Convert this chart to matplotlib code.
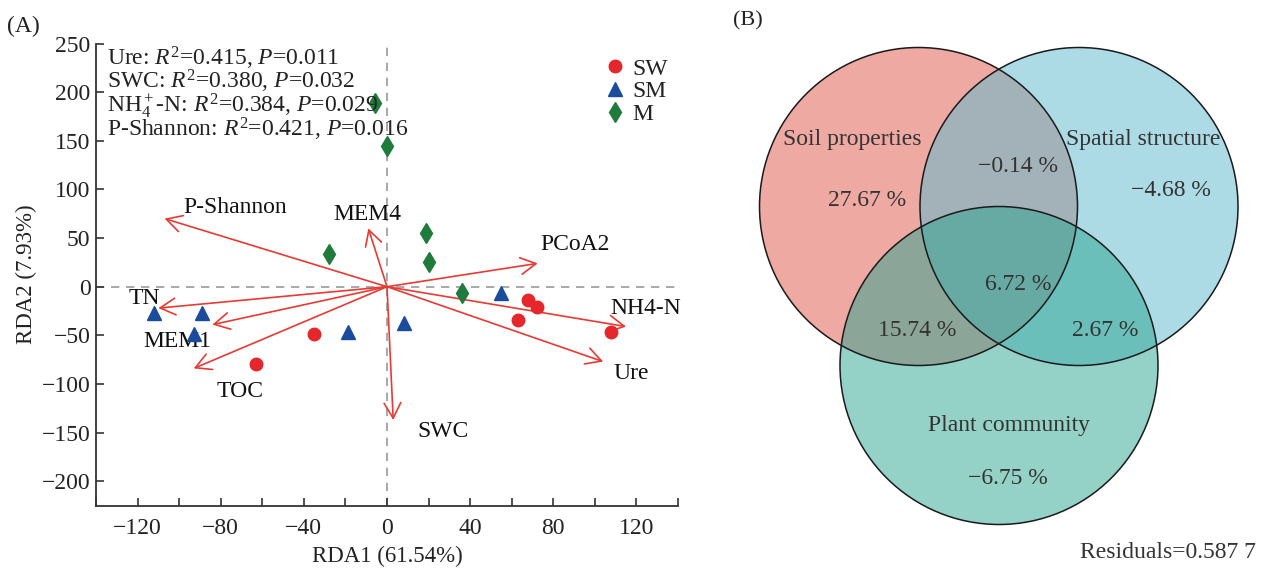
import matplotlib
matplotlib.use('Agg')
import matplotlib.pyplot as plt
from matplotlib.patches import Circle

W, H = 1265, 568
DPI = 100
plt.rcParams['font.family'] = ['Liberation Serif', 'DejaVu Serif']
plt.rcParams['mathtext.fontset'] = 'custom'
plt.rcParams['mathtext.rm'] = 'Liberation Serif'
plt.rcParams['mathtext.it'] = 'Liberation Serif:italic'
plt.rcParams['mathtext.bf'] = 'Liberation Serif:bold'
plt.rcParams['axes.unicode_minus'] = True

# ---------------- data: panel A (RDA) ----------------
sw_x = [-63, -35, 68, 72, 63, 108]
sw_y = [-79, -49, -14, -21, -34, -47]
sm_x = [-112, -89, -93, -19, 8, 55]
sm_y = [-27, -27, -49, -47, -37, -6]
m_x = [-6, 0, -28, 19, 20, 36]
m_y = [189, 145, 34, 55, 25, -6]

env_names = ['P-Shannon', 'TN', 'MEM1', 'TOC', 'MEM4', 'SWC', 'PCoA2', 'NH4-N', 'Ure']
env_x = [-107, -110, -84, -93, -9, 3, 72.5, 115, 104]
env_y = [70, -22, -39, -84, 60, -137, 24, -41, -77]

stat_lines = [
    'Ure: $R^2$=0.415, $P$=0.011',
    'SWC: $R^2$=0.380, $P$=0.032',
    'NH$_4^+$-N: $R^2$=0.384, $P$=0.029',
    'P-Shannon: $R^2$=0.421, $P$=0.016',
]

x_ticks = list(range(-140, 141, 20))
x_ticklabels = ['' if t % 40 or abs(t) > 120 else str(t).replace('-', '\u2212') for t in x_ticks]
y_ticks = list(range(-200, 251, 50))

# ---------------- data: panel B (Venn) ----------------
set_names = ['Soil properties', 'Spatial structure', 'Plant community']
region_vals = {'S': '27.67 %', 'P': '\u22124.68 %', 'C': '\u22126.75 %',
               'SP': '\u22120.14 %', 'SC': '15.74 %', 'PC': '2.67 %', 'SPC': '6.72 %'}
residuals = 'Residuals=0.587 7'

# ---------------- styling ----------------
RED = '#E5262B'
ARROW = '#E83A34'
BLUE = '#1B4C9C'
GREEN = '#1E7B3B'
FS = 17

fig = plt.figure(figsize=(W / DPI, H / DPI), dpi=DPI)


def fx(px):
    return px / W


def fy(py):
    return 1 - py / H


# axes A in pixel layout
ax = fig.add_axes([fx(96), fy(505.6), (678 - 96) / W, (505.6 - 43.5) / H])
ax.set_xlim(-140, 140)
ax.set_ylim(-225, 250)
for s in ['top', 'right']:
    ax.spines[s].set_visible(False)
for s in ['left', 'bottom']:
    ax.spines[s].set_linewidth(1.3)
    ax.spines[s].set_color('#333333')

ax.axhline(0, color='#9a9a9a', lw=1.2, ls=(0, (5, 4)), zorder=1)
ax.axvline(0, color='#9a9a9a', lw=1.2, ls=(0, (5, 4)), zorder=1)

ax.set_xticks(x_ticks)
ax.set_xticklabels(x_ticklabels)
ax.set_yticks(y_ticks)
ax.tick_params(direction='in', length=6, width=1.2, color='#333333',
               labelsize=FS, labelcolor='#222222')
ax.tick_params(axis='x', pad=9)
ax.tick_params(axis='y', pad=4)
ax.set_xlabel('RDA1 (61.54%)', fontsize=FS - 0.5, color='#222222', labelpad=5)
ax.set_ylabel('RDA2 (7.93%)', fontsize=FS - 0.5, color='#222222', labelpad=3)

# arrows
for n, x, y in zip(env_names, env_x, env_y):
    ax.annotate('', xy=(x, y), xytext=(0, 0),
                arrowprops=dict(arrowstyle='->,head_length=0.55,head_width=0.3',
                                color=ARROW, lw=1.2, shrinkA=0, shrinkB=0,
                                mutation_scale=20), zorder=3)

lab_pos = {'P-Shannon': (-98, 81), 'TN': (-124.5, -12), 'MEM1': (-117, -56.5),
           'TOC': (-82, -108), 'MEM4': (-25.7, 74), 'SWC': (14.4, -149),
           'PCoA2': (74, 43), 'NH4-N': (107.6, -22), 'Ure': (109, -89)}
for n in env_names:
    lx, ly = lab_pos[n]
    ax.text(lx, ly, n, fontsize=FS, ha='left', va='center', color='#111111', zorder=4)

ax.plot(sw_x, sw_y, ls='none', marker='o', ms=9, color=RED, mec=RED, label='SW', zorder=5)
ax.plot(sm_x, sm_y, ls='none', marker='^', ms=10, color=BLUE, mec=BLUE, label='SM', zorder=5)
ax.plot(m_x, m_y, ls='none', marker='d', ms=9.7, color=GREEN, mec=GREEN, label='M', zorder=5)

leg = ax.legend(loc='upper left', bbox_to_anchor=(fx(603), fy(58)),
                bbox_transform=fig.transFigure, frameon=False, fontsize=FS,
                handlelength=1.0, handletextpad=0.25, labelspacing=0.05,
                borderpad=0, borderaxespad=0)
for t in leg.get_texts():
    t.set_color('#222222')

# statistics block, one line each at the reference baselines
baselines = [65, 88.5, 112, 136.5]
for t, b in zip(stat_lines, baselines):
    fig.text(fx(107), fy(b), t, fontsize=FS, ha='left', va='baseline', color='#222222')

fig.text(fx(23), fy(26), '(A)', fontsize=17, ha='center', va='center', color='#222222')
fig.text(fx(748), fy(21), '(B)', fontsize=16, ha='center', va='center', color='#222222')

# ---------------- panel B: Venn ----------------
axv = fig.add_axes([fx(700), 0, (W - 700) / W, 1])
axv.set_xlim(700, W)
axv.set_ylim(H, 0)
axv.axis('off')

circ_centers = [(918.5, 206.5), (1079, 206.5), (999, 365.5)]
circ_r = 159
circ_colors = ['#DD5547', '#5BB9CF', '#2BA58F']
for (cx, cy), c in zip(circ_centers, circ_colors):
    axv.add_patch(Circle((cx, cy), circ_r, facecolor=c, alpha=0.5, edgecolor='none'))
for (cx, cy) in circ_centers:
    axv.add_patch(Circle((cx, cy), circ_r, facecolor='none', edgecolor='#1a1a1a', lw=1.1))

name_pos = [(852, 139), (1143, 139), (1009, 425.5)]
for n, (x, y) in zip(set_names, name_pos):
    axv.text(x, y, n, fontsize=FS, ha='center', va='center', color='#333333')

val_pos = {'S': (867, 201), 'P': (1171, 190), 'C': (1008, 478.5),
           'SP': (1018, 166), 'SC': (917, 330), 'PC': (1105.5, 330), 'SPC': (1018.5, 284)}
for k, v in region_vals.items():
    x, y = val_pos[k]
    axv.text(x, y, v, fontsize=FS, ha='center', va='center', color='#333333')

axv.text(1256, 553, residuals, fontsize=FS, ha='right', va='center', color='#333333')

fig.savefig('out.png', dpi=DPI)
